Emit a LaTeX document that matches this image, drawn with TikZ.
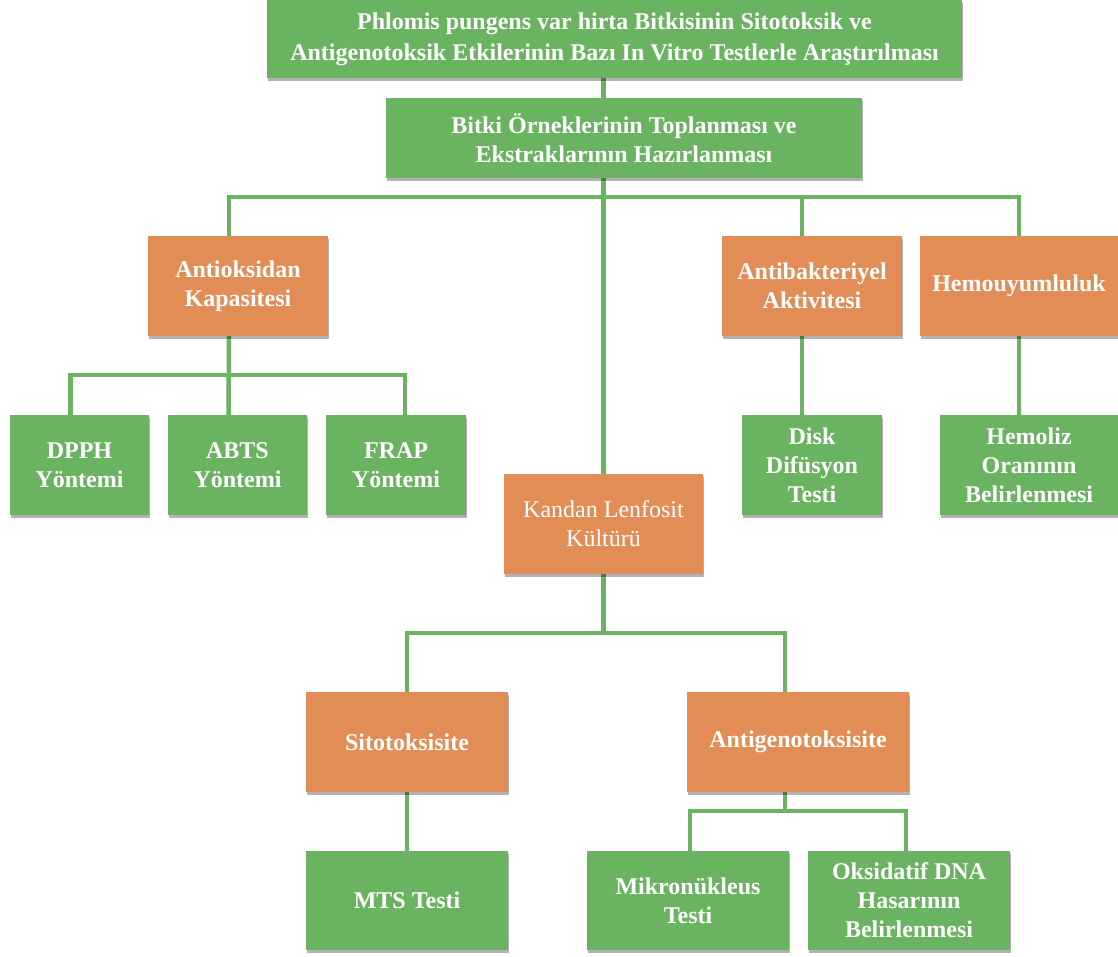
\documentclass[tikz,border=0pt]{standalone}
\usepackage{fontspec}
\setmainfont{Liberation Serif}
\usetikzlibrary{shadows,backgrounds}
\definecolor{boxGreen}{HTML}{6AB360}
\definecolor{boxOrange}{HTML}{E28D55}
\definecolor{linkGreen}{HTML}{6AB360}

\begin{document}
\begin{tikzpicture}[x=1pt, y=-1pt,
    box/.style={text=white, align=center, inner sep=0pt,
        font=\fontsize{24}{29}\selectfont\bfseries,
        drop shadow={shadow xshift=1pt, shadow yshift=-2.5pt, opacity=0.3, fill=black}},
    greenBox/.style={box, fill=boxGreen},
    orangeBox/.style={box, fill=boxOrange},
    plainText/.style={font=\fontsize{24}{29}\selectfont},
    link/.style={draw=linkGreen, line width=4.5pt}]
    \useasboundingbox (0,0) rectangle (1118,956);

    % --- Top of the tree ---
    \node[greenBox, minimum width=695pt, minimum height=78pt, font=\fontsize{24}{31}\selectfont\bfseries] (title) at (614.5,39)
        {Phlomis pungens var hirta Bitkisinin Sitotoksik ve\\Antigenotoksik Etkilerinin Bazı In Vitro Testlerle Araştırılması};
    \node[greenBox, minimum width=476pt, minimum height=80pt] (bitki) at (624,138)
        {Bitki Örneklerinin Toplanması ve\\Ekstraklarının Hazırlanması};
    % ---

    % --- Second level ---
    \node[orangeBox, minimum width=180pt, minimum height=100pt] (antiox) at (238,286) {Antioksidan\\Kapasitesi};
    \node[orangeBox, minimum width=180pt, minimum height=100pt] (antibak) at (812,286) {Antibakteriyel\\Aktivitesi};
    \node[orangeBox, minimum width=198pt, minimum height=100pt] (hemo) at (1019,286) {Hemouyumluluk};
    % ---

    % --- Test boxes ---
    \node[greenBox, minimum width=139pt, minimum height=100pt] (dpph) at (79.5,465) {DPPH\\Yöntemi};
    \node[greenBox, minimum width=139pt, minimum height=100pt] (abts) at (237.5,465) {ABTS\\Yöntemi};
    \node[greenBox, minimum width=140pt, minimum height=100pt] (frap) at (396,465) {FRAP\\Yöntemi};
    \node[greenBox, minimum width=140pt, minimum height=100pt] (disk) at (812,465) {Disk\\Difüsyon\\Testi};
    \node[greenBox, minimum width=178pt, minimum height=100pt] (hemoliz) at (1029,465) {Hemoliz\\Oranının\\Belirlenmesi};
    % ---

    % --- Lymphocyte branch ---
    \node[orangeBox, plainText, minimum width=199pt, minimum height=100pt] (kandan) at (603.5,524) {Kandan Lenfosit\\Kültürü};
    \node[orangeBox, minimum width=202pt, minimum height=100pt] (sito) at (407,742) {Sitotoksisite};
    \node[orangeBox, minimum width=222pt, minimum height=100pt] (antigeno) at (798,742) {Antigenotoksisite};
    \node[greenBox, minimum width=202pt, minimum height=99pt] (mts) at (407,900.5) {MTS Testi};
    \node[greenBox, minimum width=202pt, minimum height=99pt] (mikro) at (688,900.5) {Mikronükleus\\Testi};
    \node[greenBox, minimum width=202pt, minimum height=99pt] (oksi) at (909,900.5) {Oksidatif DNA\\Hasarının\\Belirlenmesi};
    % ---

    % --- Connectors ---
    \begin{scope}[on background layer]
        \coordinate (topBus) at (604,197);
        \draw[link] (kandan.north) -- (kandan.north |- title.south);
        \draw[link] ([xshift=-9pt]antiox.north) |- (topBus) -| (hemo.north);
        \draw[link] ([xshift=-10pt]antibak.north) -- ([xshift=-10pt]antibak.north |- topBus);
        \draw[link] ([xshift=-9pt]antiox.south) -- ([xshift=-9pt]abts.north);
        \draw[link] ([xshift=-9pt]dpph.north) -- ++(0,-40) -| ([xshift=9pt]frap.north);
        \draw[link] ([xshift=-10pt]antibak.south) -- ([xshift=-10pt]disk.north);
        \draw[link] (hemo.south) -- (hemo.south |- hemoliz.north);
        \draw[link] (kandan.south) -- ++(0,59);
        \draw[link] (sito.north) -- ++(0,-59) -| ([xshift=-13pt]antigeno.north);
        \draw[link] (sito.south) -- (mts.north);
        \draw[link] ([xshift=-13pt]antigeno.south) -- ++(0,19);
        \draw[link] ([xshift=2pt]mikro.north) -- ++(0,-40) -| ([xshift=-3pt]oksi.north);
    \end{scope}
    % ---
\end{tikzpicture}
\end{document}
